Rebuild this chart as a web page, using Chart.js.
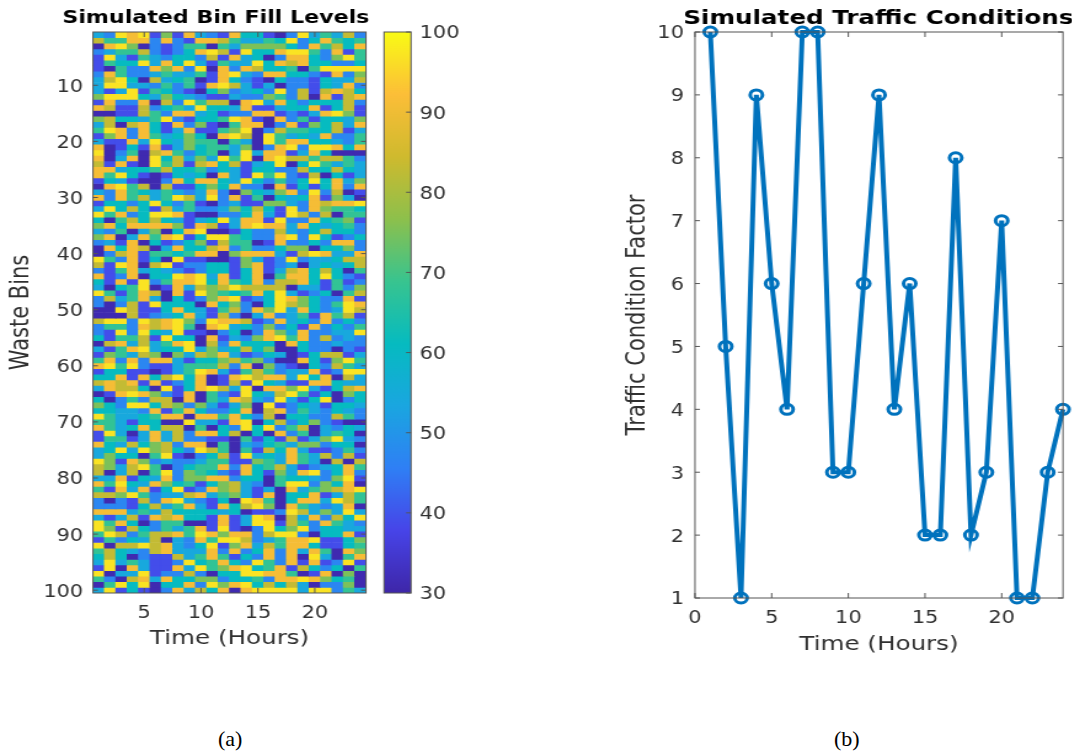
<!DOCTYPE html>
<html>
<head>
<meta charset="utf-8">
<title>Simulated bins and traffic</title>
<script src="https://cdn.jsdelivr.net/npm/chart.js@4"></script>
<style>
  html, body { margin: 0; padding: 0; background: #fff; }
  #page { position: relative; width: 1072px; height: 754px; overflow: hidden; }
  /* the reference is stretched sideways, so every canvas gets the same stretch */
  .wrap { position: absolute; top: 0; transform-origin: 0 0; transform: scaleX(1.23); }
  .cap { position: absolute; font: 22px "Liberation Serif", serif; color: #000; }
</style>
</head>
<body>
<div id="page">
  <div class="wrap" style="left:0"><canvas id="heat"></canvas></div>
  <div class="wrap" style="left:375px"><canvas id="bar"></canvas></div>
  <div class="wrap" style="left:620px"><canvas id="line"></canvas></div>
  <div class="cap" style="left:218px;top:726px">(a)</div>
  <div class="cap" style="left:834px;top:726px">(b)</div>
</div>
<script>
'use strict';

var hours = [1, 2, 3, 4, 5, 6, 7, 8, 9, 10, 11, 12, 13, 14, 15, 16, 17, 18, 19, 20, 21, 22, 23, 24];
var binTicks = [10, 20, 30, 40, 50, 60, 70, 80, 90, 100];
var colorTicks = [30, 40, 50, 60, 70, 80, 90, 100];
var trafficValues = [10, 5, 1, 9, 6, 4, 10, 10, 3, 3, 6, 9, 4, 6, 2, 2, 8, 2, 3, 7, 1, 1, 3, 4];
var hourTicks = [0, 5, 10, 15, 20];

// fill level for each code 0-9
var levelValues = [31, 39, 47, 54, 61, 68, 75, 83, 91, 97];

// one string per bin, one code per hour, grouped in sixes so they can be counted
var binRows = [
  '329891 618321 844102 935372',
  '755882 821887 533549 248545',
  '089602 125505 366664 285748',
  '235572 124897 194489 952815',
  '193153 244271 834028 842695',
  '154493 849315 339487 844224',
  '105228 682908 287445 059999',
  '285223 533518 932884 421826',
  '379407 345018 421042 214337',
  '399332 525189 731302 214382',
  '313915 421046 234292 717874',
  '699943 643211 322652 708178',
  '182280 729577 089384 244472',
  '871172 453944 381134 481471',
  '001175 288341 228812 138961',
  '674435 921445 981082 514436',
  '370784 182610 588028 164738',
  '598284 138115 690275 544713',
  '168285 346408 970953 438225',
  '311839 436550 530958 844325',
  '801418 136455 360289 299848',
  '902507 852450 393881 384000',
  '803809 473639 590897 757752',
  '718109 571784 713490 495353',
  '883445 744524 314422 744743',
  '859410 143408 319592 170413',
  '143100 284884 394252 494836',
  '089570 711464 822081 414828',
  '328543 532382 064368 292701',
  '828573 597392 815043 481630',
  '144249 425102 311663 287889',
  '394741 735223 647419 286554',
  '958249 981002 248319 727055',
  '405747 431349 388192 284561',
  '684888 861871 389883 843452',
  '325036 048900 142273 247442',
  '680385 891499 542289 294124',
  '231804 124617 550182 242882',
  '084870 384478 252246 604462',
  '027815 545880 688831 798338',
  '952814 091100 163129 233477',
  '719807 912244 168123 034347',
  '215834 321244 148137 847405',
  '812804 498938 148058 849421',
  '418192 588948 548277 841512',
  '304590 183767 977770 331526',
  '951587 081965 458493 124057',
  '273583 041268 912498 642281',
  '202719 444084 620497 642598',
  '009711 484315 728693 842397',
  '000712 348317 203823 518571',
  '799297 896298 871283 428242',
  '255287 895089 342624 182425',
  '219294 391102 402863 822339',
  '415571 944081 326895 827232',
  '078373 589072 844408 422322',
  '315893 449363 474600 422021',
  '165376 063768 312430 147713',
  '582828 831446 756200 841695',
  '895921 135557 280621 042753',
  '144110 135983 157523 381299',
  '448184 794801 897883 948073',
  '787818 124801 719431 188433',
  '387740 914897 390886 931478',
  '018986 218052 194379 514064',
  '402527 708053 873293 149024',
  '642994 762631 360912 431443',
  '443328 158422 480782 532432',
  '953345 880885 842704 422752',
  '553144 009331 890472 462100',
  '853484 770504 294925 703243',
  '193038 372884 704082 503540',
  '155138 372211 051417 136932',
  '843746 728805 032453 662440',
  '349396 742975 051748 311252',
  '364405 910247 193438 537271',
  '961862 322355 116538 530707',
  '763795 024558 284573 123485',
  '703705 926542 184163 892482',
  '338143 826688 244054 432691',
  '859438 645146 732059 926480',
  '518381 491286 731308 356789',
  '776952 337835 631804 481375',
  '202172 893214 098504 883975',
  '222147 358318 479608 532380',
  '888353 744443 401129 736393',
  '313718 784418 139807 382749',
  '958402 550018 139917 528532',
  '961742 535819 102946 924433',
  '597257 785986 882799 204481',
  '152437 032859 972358 891146',
  '907797 832491 683758 841145',
  '574327 833382 824828 385086',
  '474021 173585 142828 093058',
  '393531 129458 429528 181291',
  '190831 183956 894581 742405',
  '903391 227204 499885 018060',
  '520783 844662 445288 986450',
  '059490 448296 894747 302260',
  '391410 283748 089999 399253'
];

var parulaStops = ['#3e26a8', '#4744e8', '#2f7ff5', '#1aa6e0', '#06bbc0', '#38c48f', '#8dc04c', '#cfba2e', '#fcbe38', '#f9fb15'];

var STRETCH = 1.23;
var textColor = '#303030';
var frameColor = '#555555';

Chart.defaults.font.family = '"DejaVu Sans", sans-serif';
Chart.defaults.color = textColor;
Chart.defaults.animation = false;
Chart.defaults.plugins.legend.display = false;
Chart.defaults.plugins.tooltip.enabled = false;

function hexPart(hex, i) {
  return parseInt(hex.substr(1 + i * 2, 2), 16);
}

function colorFor(value) {
  var pos = (value - 30) / 70 * (parulaStops.length - 1);
  var lo = Math.max(0, Math.min(parulaStops.length - 2, Math.floor(pos)));
  var t = pos - lo;
  var rgb = [0, 1, 2].map(function(i) {
    return Math.round(hexPart(parulaStops[lo], i) * (1 - t) + hexPart(parulaStops[lo + 1], i) * t);
  });
  return 'rgb(' + rgb.join(',') + ')';
}

function rowCodes(row) {
  return row.replace(/ /g, '').split('').map(Number);
}

// px on the page -> px inside a stretched canvas
function inner(px) {
  return px / STRETCH;
}

// the title is centred on the whole canvas, not on what the padding leaves over
var titleSpan = {
  id: 'titleSpan',
  afterLayout: function(chart) {
    if (chart.titleBlock) {
      chart.titleBlock.left = 0;
      chart.titleBlock.right = chart.width;
    }
  }
};

// matlab style box with the ticks pointing inwards
var frame = {
  id: 'frame',
  afterDatasetsDraw: function(chart) {
    var ctx = chart.ctx;
    var area = chart.chartArea;
    ctx.save();
    ctx.strokeStyle = frameColor;
    ctx.lineWidth = 1;
    ctx.strokeRect(area.left, area.top, area.right - area.left, area.bottom - area.top);
    ctx.beginPath();
    ['x', 'y'].forEach(function(id) {
      var scale = chart.scales[id];
      if (!scale || !scale.options.display) return;
      scale.ticks.forEach(function(tick, i) {
        if (tick.label === '') return;
        var p = scale.getPixelForTick(i);
        if (id === 'x') {
          ctx.moveTo(p, area.bottom); ctx.lineTo(p, area.bottom - 5);
          ctx.moveTo(p, area.top); ctx.lineTo(p, area.top + 5);
        } else {
          if (scale.position !== 'right') {
            ctx.moveTo(area.left, p); ctx.lineTo(area.left + 4, p);
          }
          ctx.moveTo(area.right, p); ctx.lineTo(area.right - 4, p);
        }
      });
    });
    ctx.stroke();
    ctx.restore();
  }
};

function fixedBox(id, cssW, cssH) {
  var c = document.getElementById(id);
  c.width = Math.round(inner(cssW));
  c.height = cssH;
  c.style.width = c.width + 'px';
  c.style.height = cssH + 'px';
  return c;
}

// heat map: one floating bar per cell
var heatH = 680;
var heatDatasets = binRows.map(function(row, r) {
  var codes = rowCodes(row);
  return {
    data: hours.map(function() { return [r + 0.5, r + 1.5]; }),
    backgroundColor: codes.map(function(c) { return colorFor(levelValues[c]); }),
    borderWidth: 0,
    barPercentage: 1,
    categoryPercentage: 1,
    grouped: false
  };
});

var heatCanvas = fixedBox('heat', 432, heatH);
new Chart(heatCanvas, {
  type: 'bar',
  data: { labels: hours, datasets: heatDatasets },
  plugins: [frame, titleSpan],
  options: {
    responsive: false,
    layout: { padding: { right: heatCanvas.width - inner(366) } },
    plugins: {
      title: {
        display: true,
        text: 'Simulated Bin Fill Levels',
        color: '#000',
        font: { size: 18, weight: 'bold' },
        padding: { top: 8, bottom: 2.4 }
      }
    },
    scales: {
      x: {
        grid: { display: false, drawTicks: false },
        border: { display: false },
        afterFit: function(s) { s.height = heatH - 593; },
        ticks: {
          autoSkip: false, maxRotation: 0, padding: 10, font: { size: 17 },
          callback: function(v, i) { return hours[i] % 5 === 0 ? String(hours[i]) : ''; }
        },
        title: { display: true, text: 'Time (Hours)', font: { size: 20 }, padding: { top: 0, bottom: 29 } }
      },
      y: {
        reverse: true, min: 0.5, max: 100.5,
        grid: { display: false, drawTicks: false },
        border: { display: false },
        afterFit: function(s) { s.width = inner(93); },
        afterBuildTicks: function(s) { s.ticks = binTicks.map(function(v) { return { value: v }; }); },
        ticks: { autoSkip: false, padding: 8, labelOffset: 2, font: { size: 17 } },
        title: { display: true, text: 'Waste Bins', font: { size: 21 }, padding: { top: 5, bottom: 0 } }
      }
    }
  }
});

// colour bar: a single floating bar from 30 to 100 filled with the colour map
var barCanvas = fixedBox('bar', 100, heatH);
new Chart(barCanvas, {
  type: 'bar',
  data: {
    labels: ['level'],
    datasets: [{
      data: [[colorTicks[0], colorTicks[colorTicks.length - 1]]],
      barPercentage: 1,
      categoryPercentage: 1,
      borderWidth: 0,
      backgroundColor: function(ctx) {
        var chart = ctx.chart;
        if (!chart.chartArea) return parulaStops[0];
        var y = chart.scales.y;
        var g = chart.ctx.createLinearGradient(0, y.getPixelForValue(30), 0, y.getPixelForValue(100));
        parulaStops.forEach(function(c, i) { g.addColorStop(i / (parulaStops.length - 1), c); });
        return g;
      }
    }]
  },
  plugins: [frame],
  options: {
    responsive: false,
    layout: { padding: { left: inner(9), top: 32, bottom: heatH - 593 } },
    scales: {
      x: { display: false },
      y: {
        position: 'right', min: 30, max: 100,
        grid: { display: false, drawTicks: false },
        border: { display: false },
        afterFit: function(s) { s.width = barCanvas.width - inner(36); },
        afterBuildTicks: function(s) { s.ticks = colorTicks.map(function(v) { return { value: v }; }); },
        ticks: { autoSkip: false, padding: 7, labelOffset: 2, font: { size: 17 } }
      }
    }
  }
});

// traffic line
var lineCanvas = fixedBox('line', 516, heatH);
new Chart(lineCanvas, {
  type: 'line',
  data: {
    datasets: [{
      data: hours.map(function(h, i) { return { x: h, y: trafficValues[i] }; }),
      borderColor: '#0072bd',
      borderWidth: 4,
      tension: 0,
      clip: false,
      pointStyle: 'circle',
      pointRadius: 5,
      pointBorderWidth: 3,
      pointBackgroundColor: 'rgba(255,255,255,0)',
      pointBorderColor: '#0072bd'
    }]
  },
  plugins: [frame, titleSpan],
  options: {
    responsive: false,
    layout: { padding: { right: lineCanvas.width - inner(443) } },
    plugins: {
      title: {
        display: true,
        text: 'Simulated Traffic Conditions',
        color: '#000',
        font: { size: 20, weight: 'bold' },
        padding: { top: 7, bottom: 1 }
      }
    },
    scales: {
      x: {
        type: 'linear', min: 0, max: 24,
        grid: { display: false, drawTicks: false },
        border: { display: false },
        afterFit: function(s) { s.height = heatH - 598; },
        afterBuildTicks: function(s) { s.ticks = hourTicks.map(function(v) { return { value: v }; }); },
        ticks: { autoSkip: false, maxRotation: 0, padding: 10, font: { size: 17 } },
        title: { display: true, text: 'Time (Hours)', font: { size: 20 }, padding: { top: 0, bottom: 23 } }
      },
      y: {
        min: 1, max: 10,
        grid: { display: false, drawTicks: false },
        border: { display: false },
        afterFit: function(s) { s.width = inner(75); },
        ticks: { stepSize: 1, autoSkip: false, padding: 9, labelOffset: 2, font: { size: 17 } },
        title: { display: true, text: 'Traffic Condition Factor', font: { size: 21 }, padding: { top: 2, bottom: 0 } }
      }
    }
  }
});
</script>
</body>
</html>
